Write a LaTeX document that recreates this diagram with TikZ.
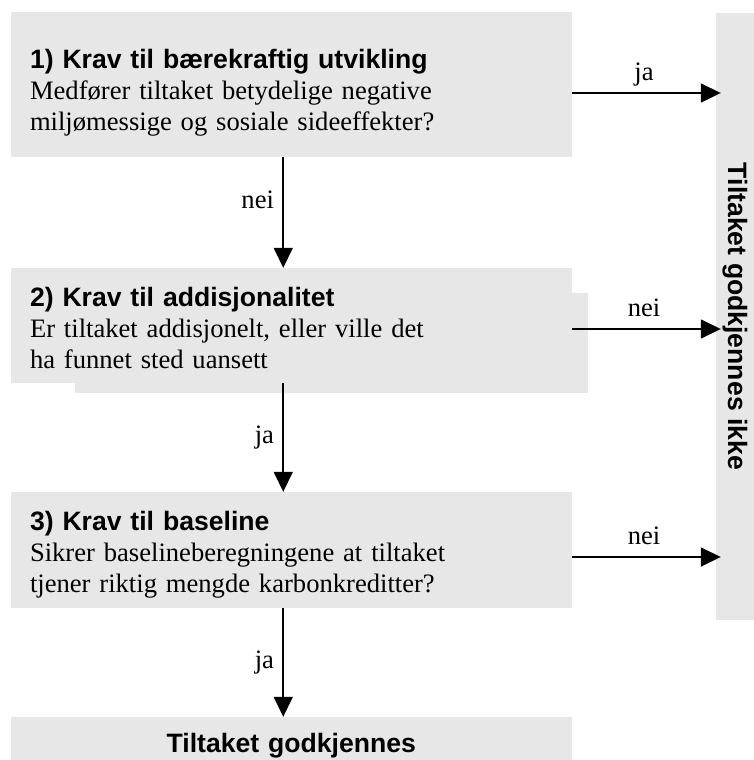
\documentclass[tikz,border=0pt]{standalone}
\usepackage{fontspec}
\setmainfont{Liberation Serif}
\setsansfont{Liberation Sans}
\usetikzlibrary{arrows.meta}
\definecolor{kravgraa}{RGB}{231,231,231}
\newcommand{\krav}[3][0pt]{{\sffamily\bfseries\rule{0pt}{\dimexpr 24pt+#1\relax}#2}\\#3}

\begin{document}
\begin{tikzpicture}[x=1pt,y=-1pt,
    every node/.style={font=\fontsize{26.6}{31}\selectfont},
    kravboks/.style={fill=kravgraa,inner sep=0pt,minimum width=561.5pt,text width=522.5pt,align=left},
    svar/.style={inner sep=5.5pt,text depth=6pt},
    pil/.style={line width=1.6pt,-{Triangle[length=20pt,width=19pt]}}]
  \useasboundingbox (0,0) rectangle (754,760);
  \node[kravboks,minimum height=145pt] (k1) at (291.25,84.5)
    {\krav[12pt]{1) Krav til bærekraftig utvikling}{Medfører tiltaket betydelige negative\\miljømessige og sosiale sideeffekter?}};
  \fill[kravgraa] (74.5,293) rectangle (587.5,393);
  \node[kravboks,minimum height=115pt] (k2) at (291.25,325.5)
    {\krav{2) Krav til addisjonalitet}{Er tiltaket addisjonelt, eller ville det\\ha funnet sted uansett}};
  \node[kravboks,minimum height=116pt] (k3) at (291.25,550)
    {\krav[4pt]{3) Krav til baseline}{Sikrer baselineberegningene at tiltaket\\tjener riktig mengde karbonkreditter?}};
  \node[kravboks,minimum height=43pt,text height=27pt,text depth=0pt,align=center,font=\fontsize{26.6}{31}\selectfont\sffamily\bfseries] (ok) at (291.25,738.5) {Tiltaket godkjennes};
  \node[fill=kravgraa,inner sep=0pt,rotate=-90,minimum width=607pt,minimum height=38pt,font=\fontsize{26.6}{31}\selectfont\sffamily\bfseries] (ikke) at (735,316.5) {Tiltaket godkjennes ikke};

  \draw[pil] ([xshift=-8pt]k1.south) -- ([xshift=-8pt]k2.north) node[svar,pos=0.41,left=3pt]{nei};
  \draw[pil] ([xshift=-8pt]k2.south) -- ([xshift=-8pt]k3.north) node[svar,midway,left=3pt]{ja};
  \draw[pil] ([xshift=-8pt]k3.south) -- ([xshift=-8pt]ok.north) node[svar,midway,left=3pt]{ja};

  \coordinate (j1) at ([yshift=-8.5pt]k1.east);
  \coordinate (j2) at ([yshift=-3.5pt]k2.east);
  \coordinate (j3) at ([yshift=-7pt]k3.east);
  \draw[pil,shorten >=-5pt] (j1) -- (j1 -| ikke.south) node[svar,midway,above]{ja};
  \draw[pil,shorten >=-5pt] (j2) -- (j2 -| ikke.south) node[svar,midway,above]{nei};
  \draw[pil,shorten >=-5pt] (j3) -- (j3 -| ikke.south) node[svar,midway,above]{nei};
\end{tikzpicture}
\end{document}
